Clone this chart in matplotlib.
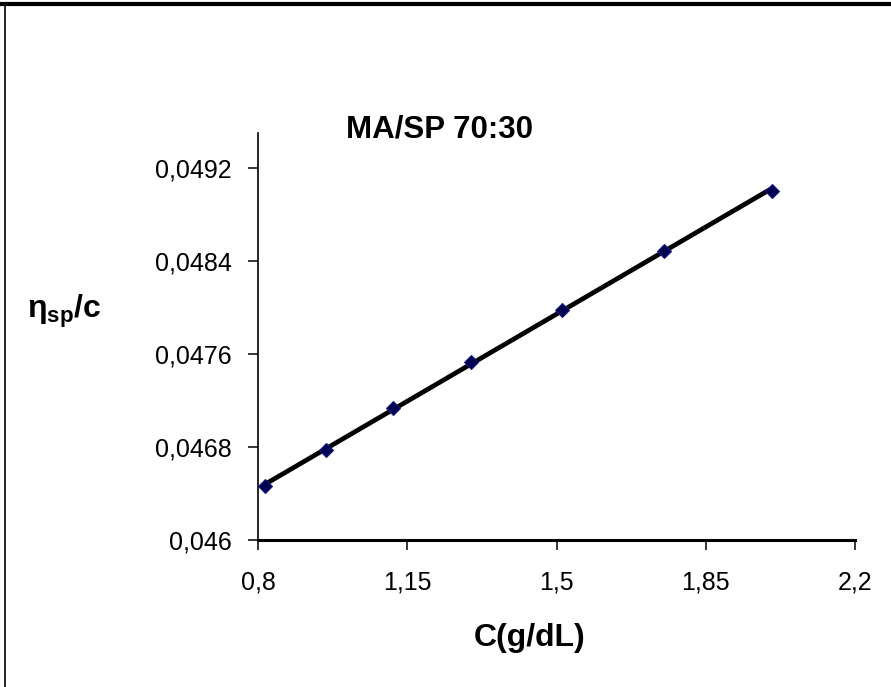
import numpy as np
import matplotlib
matplotlib.use("Agg")
import matplotlib.pyplot as plt
from matplotlib.lines import Line2D
from matplotlib.ticker import FixedLocator

plt.rcParams['font.family'] = ['Liberation Sans', 'DejaVu Sans']
plt.rcParams['mathtext.fontset'] = 'custom'
plt.rcParams['mathtext.bf'] = 'Liberation Sans:bold'
plt.rcParams['mathtext.rm'] = 'Liberation Sans'

# Data
conc = [0.816, 0.960, 1.117, 1.300, 1.512, 1.752, 2.005]
visc = [0.046467, 0.046774, 0.047133, 0.047529, 0.047978, 0.048489, 0.049005]
x_ticks = [0.8, 1.15, 1.5, 1.85, 2.2]
x_tick_labels = ["0,8", "1,15", "1,5", "1,85", "2,2"]
y_ticks = [0.046, 0.0468, 0.0476, 0.0484, 0.0492]
y_tick_labels = ["0,046", "0,0468", "0,0476", "0,0484", "0,0492"]
title = "MA/SP 70:30"
xlabel = "C(g/dL)"

W, H = 891, 687
fig = plt.figure(figsize=(W / 100, H / 100), dpi=100)
ax = fig.add_axes([258 / W, 1 - 540 / H, (855 - 258) / W, (540 - 133) / H])

# trendline
slope, intercept = np.polyfit(conc, visc, 1)
xs = np.array([min(conc), max(conc)])
ax.plot(xs, slope * xs + intercept, color='black', lw=3.4, solid_capstyle='butt', zorder=3)
ax.plot(conc, visc, linestyle='none', marker='D', markersize=7.5,
        markerfacecolor='#000050', markeredgecolor='#1a1a80', markeredgewidth=0.8, zorder=4)

ax.set_xlim(0.8, 2.2)
ax.set_ylim(0.046, 0.0495)
ax.xaxis.set_major_locator(FixedLocator(x_ticks))
ax.set_xticklabels(x_tick_labels)
ax.yaxis.set_major_locator(FixedLocator(y_ticks))
ax.set_yticklabels(y_tick_labels)

for s in ['top', 'right']:
    ax.spines[s].set_visible(False)
ax.spines['left'].set_linewidth(1.2)
ax.spines['bottom'].set_linewidth(2.2)
ax.tick_params(axis='both', direction='out', length=7, width=1.1, labelsize=18, color='black')
ax.tick_params(axis='x', pad=15)
ax.tick_params(axis='y', pad=12)

fig.text(440 / W, 1 - 137 / H, title, fontsize=22.5, fontweight='bold', ha='center', va='baseline')
fig.text(530 / W, 1 - 646 / H, xlabel, fontsize=23, fontweight='bold', ha='center', va='baseline')
fig.text(27 / W, 1 - 318 / H, r'$\mathbf{\eta}_{\mathbf{sp}}\mathbf{/c}$', fontsize=23,
         ha='left', va='baseline')

# outer frame lines (top and left)
fig.add_artist(Line2D([0, 1], [1 - 4 / H, 1 - 4 / H], transform=fig.transFigure, color='black', lw=3))
fig.add_artist(Line2D([5 / W, 5 / W], [0, 1 - 4 / H], transform=fig.transFigure, color='black', lw=1.2))

fig.savefig('out.png', dpi=100)
